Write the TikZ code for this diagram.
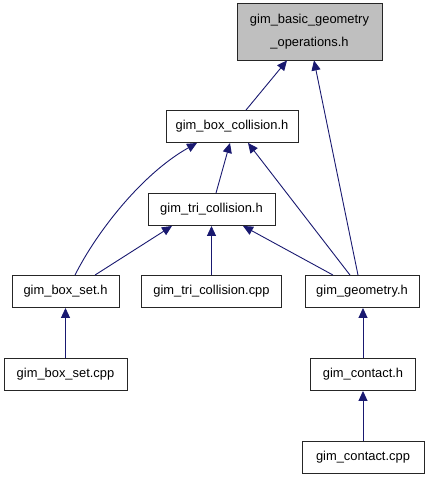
\documentclass[tikz,border=0pt]{standalone}
\usepackage{fontspec}
\setmainfont{Liberation Sans}
\usetikzlibrary{arrows.meta}
\definecolor{edgec}{HTML}{191970}
\definecolor{topfill}{HTML}{BFBFBF}
\begin{document}
\begin{tikzpicture}[x=1pt,y=-1pt,
  box/.style={draw=black!85, line width=0.9pt, fill=white, inner sep=0pt,
    minimum height=32pt, font=\fontsize{12.9}{15}\selectfont, text=black},
  dep/.style={draw=edgec, line width=0.9pt, -{Triangle[length=10pt,width=9pt]}}]
\useasboundingbox (0,0) rectangle (427,480);
\node[box, minimum width=145pt, minimum height=57pt, fill=topfill, align=center,
  font=\fontsize{12.9}{23}\selectfont] (top) at (309.5,31.5) {gim\_basic\_geometry\\\_operations.h};
\node[box, minimum width=132pt] (bc) at (232,126.5) {gim\_box\_collision.h};
\node[box, minimum width=127pt] (tc) at (211.5,209.5) {gim\_tri\_collision.h};
\node[box, minimum width=107pt] (bs) at (65.5,291.5) {gim\_box\_set.h};
\node[box, minimum width=140pt] (tcc) at (211.5,291.5) {gim\_tri\_collision.cpp};
\node[box, minimum width=114pt] (ge) at (362,291.5) {gim\_geometry.h};
\node[box, minimum width=123pt] (bsc) at (65.5,374.5) {gim\_box\_set.cpp};
\node[box, minimum width=105pt] (ch) at (363,374.5) {gim\_contact.h};
\node[box, minimum width=122pt] (cc) at (363,457.5) {gim\_contact.cpp};

\draw[dep] ([xshift=14pt]bc.north) -- ([xshift=-22.5pt]top.south);
\draw[dep] ([xshift=-4pt]ge.north) -- ([xshift=4.5pt]top.south);
\draw[dep] ([xshift=9.5pt]bs.north) .. controls (95,235) and (140,175) .. ([xshift=-35pt]bc.south);
\draw[dep] ([xshift=4.5pt]tc.north) -- ([xshift=-2pt]bc.south);
\draw[dep] ([xshift=-12pt]ge.north) -- ([xshift=16pt]bc.south);
\draw[dep] ([xshift=29.5pt]bs.north) -- ([xshift=-39.5pt]tc.south);
\draw[dep] (tcc.north) -- (tc.south);
\draw[dep] ([xshift=-29pt]ge.north) -- ([xshift=31.5pt]tc.south);
\draw[dep] (bsc.north) -- (bs.south);
\draw[dep] (ch.north) -- (ch.north |- ge.south);
\draw[dep] (cc.north) -- (ch.south);
\end{tikzpicture}
\end{document}
